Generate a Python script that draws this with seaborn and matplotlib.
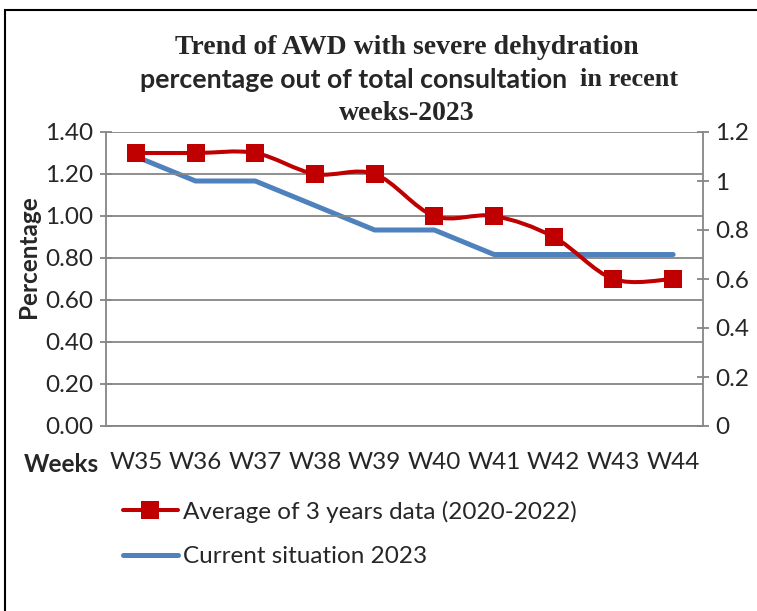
import matplotlib
matplotlib.use('Agg')
import matplotlib.pyplot as plt
import seaborn as sns
import numpy as np
import pandas as pd
from matplotlib.path import Path
from matplotlib.patches import PathPatch, Rectangle
from matplotlib.lines import Line2D

# data
weeks = ['W35', 'W36', 'W37', 'W38', 'W39', 'W40', 'W41', 'W42', 'W43', 'W44']
avg_3yr = [1.30, 1.30, 1.30, 1.20, 1.20, 1.00, 1.00, 0.90, 0.70, 0.70]
current_2023 = [1.1, 1.0, 1.0, 0.9, 0.8, 0.8, 0.7, 0.7, 0.7, 0.7]
left_ticks = [0.0, 0.2, 0.4, 0.6, 0.8, 1.0, 1.2, 1.4]
right_ticks = [0, 0.2, 0.4, 0.6, 0.8, 1, 1.2]
avg_label = 'Average of 3 years data (2020-2022)'
cur_label = 'Current situation 2023'

RED = '#C00000'
BLUE = '#4F81BD'
GREY = '#868686'
FS = 17.5

sns.set_style('white')
plt.rcParams['font.family'] = ['Lato', 'DejaVu Sans']

W, H = 757, 611
fig = plt.figure(figsize=(W / 100, H / 100), dpi=100)

# outer frame (cut at right / bottom in the reference)
fig.patches.append(Rectangle((5 / W, -0.05), 1.1, (H - 10) / H + 0.05,
                             transform=fig.transFigure, fill=False,
                             edgecolor='black', lw=1.5))

ax = fig.add_axes([106 / W, (H - 426) / H, (703 - 106) / W, (426 - 132) / H])
ax2 = ax.twinx()
ax.set_zorder(ax2.get_zorder() + 1)
ax.patch.set_visible(False)

df = pd.DataFrame({'x': np.arange(len(weeks)), 'avg': avg_3yr, 'cur': current_2023})

# current situation on the secondary axis
sns.lineplot(data=df, x='x', y='cur', ax=ax2, color=BLUE, lw=3.6,
             solid_capstyle='round', legend=False)

# smoothed red line (Catmull-Rom style bezier through the points)
pts = df[['x', 'avg']].to_numpy(dtype=float)
n = len(pts)
verts = [pts[0]]
codes = [Path.MOVETO]
for i in range(n - 1):
    p0 = pts[max(i - 1, 0)]
    p1 = pts[i]
    p2 = pts[i + 1]
    p3 = pts[min(i + 2, n - 1)]
    verts += [p1 + (p2 - p0) / 6, p2 - (p3 - p1) / 6, p2]
    codes += [Path.CURVE4] * 3
ax.add_patch(PathPatch(Path(verts, codes), fill=False, edgecolor=RED, lw=2.9,
                       capstyle='round', zorder=3))
sns.scatterplot(data=df, x='x', y='avg', ax=ax, marker='s', s=165, color=RED,
                linewidth=0, zorder=4, legend=False)

ax.set_xlim(-0.5, len(weeks) - 0.5)
ax.set_ylim(0, 1.4)
ax2.set_ylim(0, 1.2)

ax.set_yticks(left_ticks)
ax.set_yticklabels([f'{v:.2f}' for v in left_ticks])
ax2.set_yticks(right_ticks)
ax2.set_yticklabels([f'{v:g}' for v in right_ticks])
ax.set_xticks(df['x'])
ax.set_xticklabels(weeks)
ax.set_xticks(np.arange(-0.5, len(weeks)), minor=True)

ax.grid(axis='y', color=GREY, lw=1.3, zorder=0)
ax.set_axisbelow(True)
ax.set_xlabel('')
ax.set_ylabel('')
ax2.set_ylabel('')

for a in (ax, ax2):
    for s in a.spines.values():
        s.set_visible(False)
ax.spines['left'].set_visible(True)
ax.spines['bottom'].set_visible(True)
ax2.spines['right'].set_visible(True)
for s in (ax.spines['left'], ax.spines['bottom'], ax2.spines['right']):
    s.set_color(GREY)
    s.set_linewidth(1.3)

ax.tick_params(axis='y', direction='inout', length=8, width=1.3, color=GREY,
               labelsize=FS, pad=5)
ax2.tick_params(axis='y', direction='inout', length=8, width=1.3, color=GREY,
                labelsize=FS, pad=5)
ax.tick_params(axis='x', which='major', length=0, labelsize=FS, pad=19)
ax.tick_params(axis='x', which='minor', direction='out', length=5, width=1.3,
               color=GREY)

fig.text(29 / W, 1 - 257 / H, 'Percentage', rotation=90, ha='center',
         va='center', fontsize=FS, fontweight='bold')
fig.text(61 / W, 1 - 465 / H, 'Weeks', ha='center', va='center', fontsize=FS,
         fontweight='bold')

# title, mixed serif / sans like the original
serif = ['Liberation Serif', 'DejaVu Serif']
fig.text(407 / W, 1 - 47 / H, 'Trend of AWD with severe dehydration',
         ha='center', va='center', family=serif, fontweight='bold', fontsize=20)
fig.text(567 / W, 1 - 80 / H, 'percentage out of total consultation',
         ha='right', va='center', fontweight='bold', fontsize=19.3)
fig.text(580 / W, 1 - 80 / H, 'in recent', ha='left', va='center',
         family=serif, fontweight='bold', fontsize=19)
fig.text(407 / W, 1 - 113 / H, 'weeks-2023', ha='center', va='center',
         family=serif, fontweight='bold', fontsize=20)

handles = [Line2D([], [], color=RED, lw=2.9, marker='s', ms=13, mew=0),
           Line2D([], [], color=BLUE, lw=3.6, solid_capstyle='round')]
fig.legend(handles, [avg_label, cur_label], loc='center left',
           bbox_to_anchor=(123 / W, 1 - 534 / H), frameon=False, fontsize=FS,
           handlelength=2.26, handletextpad=0.2, labelspacing=0.97,
           borderpad=0, borderaxespad=0)

fig.savefig('out.png', dpi=100)
